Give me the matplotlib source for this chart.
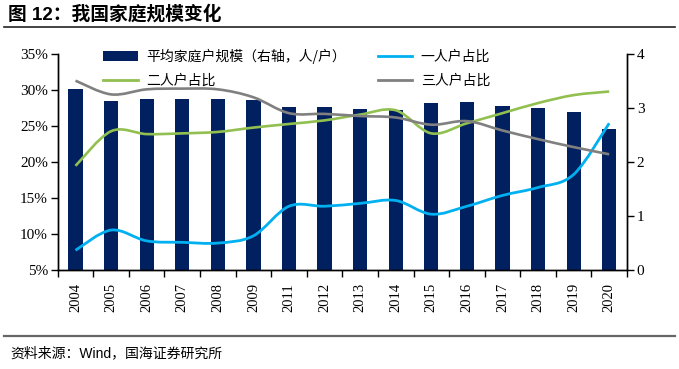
import matplotlib
matplotlib.use("Agg")
import matplotlib.pyplot as plt
from matplotlib.path import Path
from matplotlib.patches import PathPatch, Patch
from matplotlib.lines import Line2D
import numpy as np

years = ["2004", "2005", "2006", "2007", "2008", "2009", "2011", "2012",
         "2013", "2014", "2015", "2016", "2017", "2018", "2019", "2020"]
avg_size = [3.36, 3.13, 3.17, 3.17, 3.16, 3.15, 3.02, 3.02,
            2.98, 2.97, 3.10, 3.11, 3.03, 3.00, 2.92, 2.62]
one_person = [7.8, 10.6, 9.1, 8.9, 8.8, 9.8, 13.9, 13.9,
              14.3, 14.7, 12.8, 13.9, 15.4, 16.5, 18.3, 25.4]
two_person = [19.5, 24.3, 23.9, 24.0, 24.2, 24.8, 25.3, 25.8,
              26.6, 27.2, 24.0, 25.4, 26.8, 28.2, 29.3, 29.8]
three_person = [31.3, 29.4, 30.1, 30.2, 30.1, 29.0, 26.8, 26.7,
                26.4, 26.2, 25.2, 25.7, 24.4, 23.2, 22.1, 21.1]

NAVY = "#002060"
BLUE = "#00B0F0"
GREEN = "#92C050"
GRAY = "#808080"
CJK = ["Noto Sans CJK SC", "DejaVu Sans"]
SERIF = "Liberation Serif"


def smooth_path(xs, ys):
    # excel-like smoothed line: cubic bezier through every point
    pts = np.column_stack([xs, ys]).astype(float)
    ext = np.vstack([pts[0], pts, pts[-1]])
    verts = [pts[0]]
    codes = [Path.MOVETO]
    for i in range(len(pts) - 1):
        p0, p1, p2, p3 = ext[i], ext[i + 1], ext[i + 2], ext[i + 3]
        verts += [p1 + (p2 - p0) / 6, p2 - (p3 - p1) / 6, p2]
        codes += [Path.CURVE4] * 3
    return Path(verts, codes)


fig = plt.figure(figsize=(6.79, 3.69), dpi=100)
ax = fig.add_axes([0.085, 0.267, 0.8384, 0.5867])
ax2 = ax.twinx()

x = np.arange(len(years))
ax2.bar(x, avg_size, width=0.4, color=NAVY, zorder=2)
ax2.set_ylim(0, 4)
ax2.set_yticks([0, 1, 2, 3, 4])

ax.set_zorder(ax2.get_zorder() + 1)
ax.patch.set_visible(False)
for vals, col, lw in [(one_person, BLUE, 2.0), (two_person, GREEN, 1.9),
                      (three_person, GRAY, 1.9)]:
    ax.add_patch(PathPatch(smooth_path(x, vals), facecolor="none",
                           edgecolor=col, lw=lw, capstyle="butt"))

ax.set_xlim(-0.5, len(years) - 0.5)
ax.set_ylim(5, 35)
ax.set_yticks(range(5, 36, 5))
ax.set_yticklabels([f"{v}%" for v in range(5, 36, 5)])
ax.set_xticks(x)
ax.set_xticklabels(years, rotation=90)
ax.set_xticks(np.arange(-0.5, len(years), 1), minor=True)
ax.tick_params(axis="x", which="major", length=0, pad=9)
ax.tick_params(axis="x", which="minor", length=5, direction="out", width=1)
ax.tick_params(axis="y", length=5, width=1, direction="out", pad=2)
ax2.tick_params(axis="y", length=5, width=1, direction="out", pad=2)

for a in (ax, ax2):
    a.spines["top"].set_visible(False)
    for s in a.spines.values():
        s.set_linewidth(1.0)
    for lab in a.get_xticklabels() + a.get_yticklabels():
        lab.set_fontfamily(SERIF)
        lab.set_fontsize(11)
for lab in ax.get_xticklabels():
    lab.set_fontsize(10.5)

handles = [Patch(facecolor=NAVY),
           Line2D([], [], color=GREEN, lw=2),
           Line2D([], [], color=BLUE, lw=2),
           Line2D([], [], color=GRAY, lw=2)]
labels = ["平均家庭户规模（右轴，人/户）", "二人户占比", "一人户占比", "三人户占比"]
fig.legend(handles, labels, ncol=2, loc="upper left",
           bbox_to_anchor=(103 / 679, 1 - 49 / 369), frameon=False,
           prop={"family": CJK, "size": 10}, handlelength=2.5,
           handletextpad=0.6, columnspacing=2.3, labelspacing=0.7,
           borderpad=0, borderaxespad=0)

fig.text(8 / 679, 1 - 14 / 369, "图 12：我国家庭规模变化", fontsize=13.5,
         fontweight="bold", family=["Liberation Sans", "Noto Sans CJK SC"],
         va="center", ha="left")
fig.add_artist(Line2D([0.006, 0.994], [1 - 27 / 369] * 2, color="#222222",
                      lw=1.2, transform=fig.transFigure))
fig.add_artist(Line2D([0.006, 0.994], [1 - 336 / 369] * 2, color="#666666",
                      lw=1.6, transform=fig.transFigure))
fig.text(10 / 679, 1 - 353 / 369, "资料来源：Wind，国海证券研究所", fontsize=10,
         family=["Liberation Sans", "Noto Sans CJK SC"], va="center", ha="left")

fig.savefig("out.png", dpi=100)
